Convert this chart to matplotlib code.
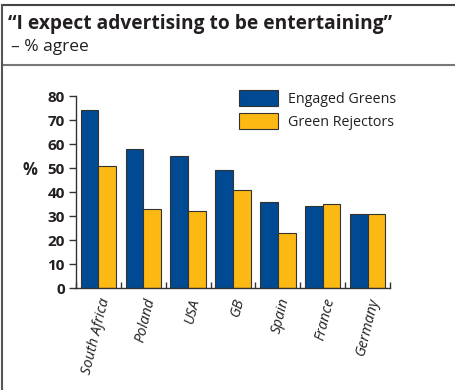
import matplotlib.pyplot as plt
import numpy as np
from matplotlib.lines import Line2D

countries = ["South Africa", "Poland", "USA", "GB", "Spain", "France", "Germany"]
engaged_greens = [74, 58, 55, 49, 36, 34, 31]
green_rejectors = [51, 33, 32, 41, 23, 35, 31]
y_ticks = [0, 10, 20, 30, 40, 50, 60, 70, 80]

blue = "#004a93"
yellow = "#fdb913"
ink = "#231f20"

plt.rcParams['font.family'] = ['Open Sans', 'DejaVu Sans']

fig = plt.figure(figsize=(4.56, 3.9), dpi=100)

# frame around the panel: top rule, rule under the heading, left edge
fig.add_artist(Line2D([2 / 456, 1], [1 - 5 / 390, 1 - 5 / 390], color="#444444", lw=1.5))
fig.add_artist(Line2D([2 / 456, 1], [1 - 65 / 390, 1 - 65 / 390], color="#777777", lw=1.5))
fig.add_artist(Line2D([2 / 456, 2 / 456], [0, 1 - 5 / 390], color="#555555", lw=1.5))

fig.text(8 / 456, 1 - 24 / 390, "\u201cI expect advertising to be entertaining\u201d",
         fontsize=13.8, fontweight="bold", color=ink, va="center", ha="left")
fig.text(11 / 456, 1 - 47 / 390, "\u2013 % agree", fontsize=12.5, color=ink,
         va="center", ha="left")

ax = fig.add_axes([76 / 456, 1 - 288 / 390, 314 / 456, 192 / 390])
x = np.arange(len(countries))
w = 0.395
ax.bar(x - w / 2, engaged_greens, w, color=blue, edgecolor="#333333", lw=0.8,
       label="Engaged Greens")
ax.bar(x + w / 2, green_rejectors, w, color=yellow, edgecolor="#333333", lw=0.8,
       label="Green Rejectors")

ax.set_xlim(-0.5, len(countries) - 0.5)
ax.set_ylim(0, 80)
ax.set_yticks(y_ticks)
ax.set_yticklabels([str(v) for v in y_ticks], fontsize=11, fontweight="bold", color=ink)
ax.tick_params(axis="y", direction="out", length=5, width=1, color="#333333", pad=3)

ax.set_xticks(x)
ax.set_xticklabels(countries, rotation=76, ha="right", va="top", rotation_mode="anchor",
                   fontsize=10.5, fontstyle="italic", color=ink)
ax.tick_params(axis="x", which="major", length=0, pad=6)
ax.set_xticks(np.arange(len(countries) + 1) - 0.5, minor=True)
ax.tick_params(axis="x", which="minor", direction="in", length=4, width=1, color="#333333")

for s in ["top", "right"]:
    ax.spines[s].set_visible(False)
for s in ["left", "bottom"]:
    ax.spines[s].set_color("#333333")
    ax.spines[s].set_linewidth(1)

fig.text(30 / 456, 1 - 170 / 390, "%", fontsize=12, fontweight="bold", color=ink,
         ha="center", va="center")

ax.legend(loc="upper left", bbox_to_anchor=(239 / 456, 1 - 90 / 390),
          bbox_transform=fig.transFigure, frameon=False, fontsize=10.3, borderpad=0,
          borderaxespad=0, handlelength=2.75, handleheight=1.3, handletextpad=0.65,
          labelspacing=0.45, labelcolor=ink)

fig.savefig("out.png", dpi=100)
